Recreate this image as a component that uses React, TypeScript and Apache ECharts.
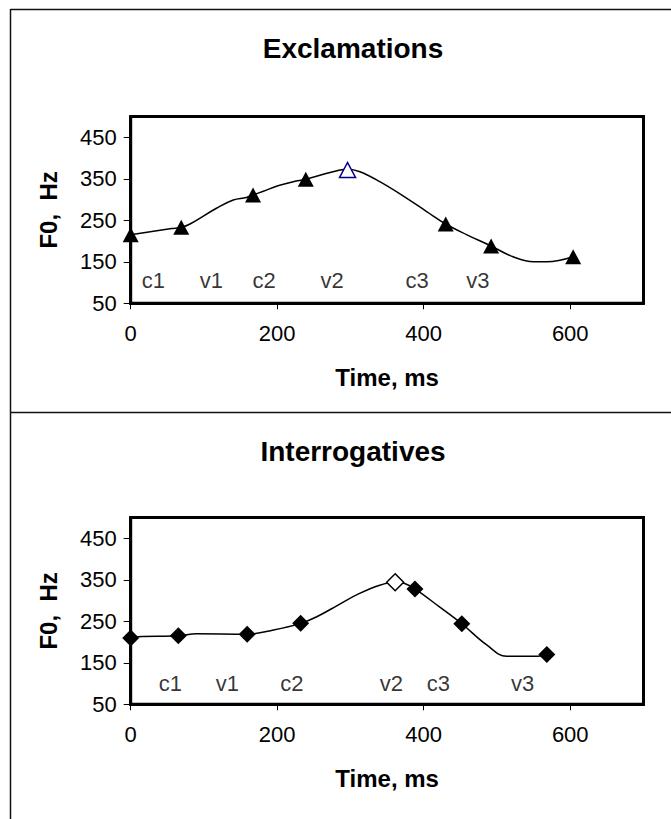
import React, { useEffect, useRef } from "react";
import * as echarts from "echarts";

const FONT = "'Liberation Sans', Arial, sans-serif";

// Tick values
const xTicks = [0, 200, 400, 600];
const yTicks = [50, 150, 250, 350, 450];

// Exclamations: F0 contour (line) and measurement points (markers)
const exLineTime = [0, 56, 69, 81, 117, 140, 158, 167, 181, 201, 222, 239, 263, 283, 296, 313, 340, 377, 404, 430, 459, 492, 522, 550, 568, 604];
const exLineF0 = [215, 230, 233, 241, 279, 299, 305, 311, 320, 333, 343, 349, 361, 370, 373, 367, 343, 303, 271, 241, 215, 188, 162, 150, 150, 162];
const exPointTime = [0, 69, 167, 239, 296, 430, 492, 604];
const exPointF0 = [215, 233, 311, 349, 371, 241, 188, 162];
const exOpenIndex = 4;

// Interrogatives
const inLineTime = [0, 10, 65, 90, 159, 195, 232, 254, 283, 311, 340, 361, 374, 388, 422, 452, 486, 513, 556, 568];
const inLineF0 = [210, 213, 215, 220, 219, 229, 245, 261, 289, 316, 337, 344, 341, 328, 284, 244, 193, 166, 166, 170];
const inPointTime = [0, 65, 159, 232, 361, 388, 452, 568];
const inPointF0 = [210, 215, 219, 245, 344, 328, 244, 170];
const inOpenIndex = 4;

// Segment labels
const segNames = ["c1", "v1", "c2", "v2", "c3", "v3"];
const exSegTime = [31, 110, 182, 275, 391, 474];
const exSegF0 = [106, 106, 106, 106, 106, 106];
const inSegTime = [54, 132, 220, 356, 420, 535];
const inSegF0 = [101, 101, 101, 101, 101, 101];

const titles = ["Exclamations", "Interrogatives"];

export default function App() {
  const ref = useRef<HTMLDivElement>(null);
  useEffect(() => {
    if (!ref.current) return;
    const chart = echarts.init(ref.current, null, { renderer: "svg" });

    const gridTops = [116.5, 517.5];
    const grids = gridTops.map((t) => ({
      left: 130.7,
      top: t,
      width: 512.8,
      height: 186.8,
      show: true,
      borderColor: "#000",
      borderWidth: 3,
      backgroundColor: "transparent",
      containLabel: false,
    }));

    const xAxes = [0, 1].map((i) => ({
      type: "value",
      gridIndex: i,
      min: 0,
      max: 700,
      name: "Time, ms",
      nameLocation: "middle",
      nameGap: 62,
      nameTextStyle: { fontSize: 24, fontWeight: "bold", fontFamily: FONT, color: "#000" },
      axisLine: { show: true, onZero: false, lineStyle: { color: "#000", width: 3 } },
      axisTick: { show: true, length: 6, customValues: xTicks, lineStyle: { color: "#000", width: 1 } },
      axisLabel: { customValues: xTicks, fontSize: 22, color: "#000", fontFamily: FONT, margin: 19 },
      splitLine: { show: false },
    }));

    const yAxes = [0, 1].map((i) => ({
      type: "value",
      gridIndex: i,
      min: 50,
      max: 500,
      name: "F0,  Hz",
      nameLocation: "middle",
      nameGap: 70,
      nameTextStyle: { fontSize: 24, fontWeight: "bold", fontFamily: FONT, color: "#000" },
      axisLine: { show: true, onZero: false, lineStyle: { color: "#000", width: 3 } },
      axisTick: { show: true, length: 7, customValues: yTicks, lineStyle: { color: "#000", width: 1 } },
      axisLabel: { customValues: yTicks, fontSize: 22, color: "#000", fontFamily: FONT, margin: 14 },
      splitLine: { show: false },
    }));

    const mkLine = (i: number, ts: number[], vs: number[]) => ({
      type: "line",
      xAxisIndex: i,
      yAxisIndex: i,
      data: ts.map((t, k) => [t, vs[k]]),
      smooth: 0.4,
      symbol: "none",
      lineStyle: { color: "#000", width: 1.5 },
      z: 2,
    });

    const mkPoints = (
      i: number,
      ts: number[],
      vs: number[],
      openIdx: number,
      symbol: string,
      size: number[],
      openBorder: string
    ) => ({
      type: "scatter",
      xAxisIndex: i,
      yAxisIndex: i,
      symbol,
      symbolSize: size,
      data: ts.map((t, k) =>
        k === openIdx
          ? { value: [t, vs[k]], itemStyle: { color: "#fff", borderColor: openBorder, borderWidth: 1.5, opacity: 1 } }
          : { value: [t, vs[k]], itemStyle: { color: "#000", opacity: 1 } }
      ),
      z: 5,
    });

    const mkLabels = (i: number, ts: number[], vs: number[]) => ({
      type: "scatter",
      xAxisIndex: i,
      yAxisIndex: i,
      symbolSize: 0,
      silent: true,
      data: ts.map((t, k) => ({ name: segNames[k], value: [t, vs[k]] })),
      label: {
        show: true,
        position: "inside",
        formatter: "{b}",
        fontSize: 22,
        color: "#000",
        fontFamily: FONT,
      },
      z: 4,
    });

    chart.setOption({
      animation: false,
      backgroundColor: "#fff",
      title: titles.map((t, i) => ({
        text: t,
        left: 348,
        top: i === 0 ? 29 : 432,
        textAlign: "center",
        textStyle: { fontSize: 28, fontWeight: "bold", fontFamily: FONT, color: "#000" },
      })),
      grid: grids,
      xAxis: xAxes,
      yAxis: yAxes,
      series: [
        mkLine(0, exLineTime, exLineF0),
        mkPoints(0, exPointTime, exPointF0, exOpenIndex, "triangle", [16, 15], "#000080"),
        mkLabels(0, exSegTime, exSegF0),
        mkLine(1, inLineTime, inLineF0),
        mkPoints(1, inPointTime, inPointF0, inOpenIndex, "diamond", [17, 17], "#000"),
        mkLabels(1, inSegTime, inSegF0),
      ],
      graphic: [
        { type: "line", shape: { x1: 10.5, y1: 9.5, x2: 671, y2: 9.5 }, style: { stroke: "#111", lineWidth: 1.5 } },
        { type: "line", shape: { x1: 10.5, y1: 9, x2: 10.5, y2: 819 }, style: { stroke: "#111", lineWidth: 1.5 } },
        { type: "line", shape: { x1: 10.5, y1: 412.5, x2: 671, y2: 412.5 }, style: { stroke: "#111", lineWidth: 1.5 } },
      ],
    });

    return () => chart.dispose();
  }, []);

  return (
    <div
      ref={ref}
      style={{ position: "absolute", left: 0, top: 0, width: 671, height: 819, background: "#fff" }}
    />
  );
}
